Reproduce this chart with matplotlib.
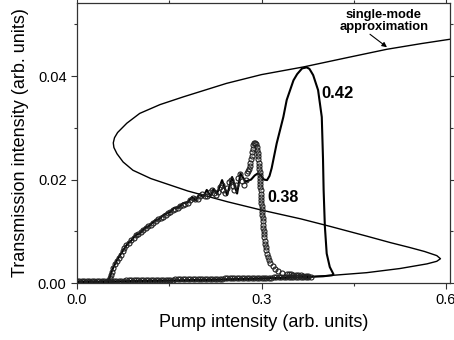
import matplotlib
matplotlib.use("Agg")
import matplotlib.pyplot as plt

plt.rcParams['font.family'] = ['Liberation Sans', 'DejaVu Sans']

# single-mode approximation (S-shaped bistability curve)
s_pump = [0.000, 0.100, 0.200, 0.300, 0.364, 0.417, 0.471, 0.525, 0.569, 0.585,
          0.591, 0.585, 0.565, 0.540, 0.510, 0.470, 0.410, 0.364, 0.300, 0.245,
          0.180, 0.120, 0.091, 0.075, 0.065, 0.060, 0.059, 0.061, 0.066, 0.081,
          0.102, 0.135, 0.173, 0.243, 0.300, 0.369, 0.440, 0.504, 0.560, 0.610]
s_trans = [0.0000, 0.0003, 0.0005, 0.0008, 0.0011, 0.0015, 0.0020, 0.0028, 0.0037, 0.0042,
           0.0047, 0.0053, 0.0061, 0.0069, 0.0078, 0.0091, 0.0110, 0.0124, 0.0141, 0.0157,
           0.0178, 0.0202, 0.0218, 0.0234, 0.0250, 0.0262, 0.0271, 0.0281, 0.0291, 0.0309,
           0.0328, 0.0345, 0.0360, 0.0386, 0.0403, 0.0418, 0.0436, 0.0452, 0.0463, 0.0472]

# trace with peak pump 0.42 (solid line)
p42 = [0.000, 0.050, 0.100, 0.200, 0.300, 0.360, 0.400, 0.415, 0.417, 0.411,
       0.406, 0.403, 0.401, 0.400, 0.398, 0.392, 0.384, 0.378, 0.3735, 0.366,
       0.358, 0.352, 0.341, 0.3355, 0.330, 0.3247, 0.3165, 0.313, 0.309, 0.304,
       0.299, 0.294, 0.289, 0.283, 0.278, 0.274, 0.2658, 0.2603, 0.2522, 0.244,
       0.2359, 0.2277, 0.222, 0.217, 0.211, 0.205, 0.199, 0.193, 0.187, 0.180,
       0.172, 0.165, 0.158, 0.150, 0.142, 0.134, 0.126, 0.118, 0.110, 0.102,
       0.095, 0.088, 0.081, 0.075, 0.069, 0.064, 0.059, 0.055, 0.052, 0.050,
       0.040, 0.020, 0.000]
t42 = [0.0002, 0.0003, 0.0004, 0.0006, 0.0009, 0.0011, 0.0013, 0.0015, 0.0017, 0.0031,
       0.0057, 0.0110, 0.0180, 0.0240, 0.0321, 0.0373, 0.0402, 0.0414, 0.0417, 0.0415,
       0.0404, 0.0392, 0.0354, 0.0321, 0.0295, 0.0270, 0.0222, 0.0207, 0.0199, 0.0200,
       0.0208, 0.0212, 0.0208, 0.0200, 0.0198, 0.0196, 0.0212, 0.0173, 0.0205, 0.0170,
       0.0199, 0.0173, 0.0182, 0.0168, 0.0180, 0.0166, 0.0172, 0.0160, 0.0166, 0.0156,
       0.0154, 0.0146, 0.0145, 0.0136, 0.0133, 0.0124, 0.0120, 0.0111, 0.0106, 0.0096,
       0.0092, 0.0082, 0.0074, 0.0063, 0.0052, 0.0042, 0.0030, 0.0018, 0.0007, 0.0002,
       0.0001, 0.0001, 0.0001]

# trace with peak pump 0.38 (open circles)
p38 = [0.000, 0.004, 0.008, 0.012, 0.016, 0.020, 0.024, 0.028, 0.032, 0.036,
       0.040, 0.044, 0.048, 0.052, 0.056, 0.060, 0.064, 0.068, 0.072, 0.076,
       0.080, 0.084, 0.088, 0.092, 0.096, 0.100, 0.104, 0.108, 0.112, 0.116,
       0.120, 0.124, 0.128, 0.132, 0.136, 0.140, 0.144, 0.148, 0.152, 0.156,
       0.160, 0.164, 0.168, 0.172, 0.176, 0.180, 0.184, 0.188, 0.192, 0.196,
       0.200, 0.204, 0.208, 0.212, 0.216, 0.220, 0.224, 0.228, 0.232, 0.236,
       0.240, 0.244, 0.248, 0.252, 0.256, 0.260, 0.264, 0.268, 0.272, 0.276,
       0.280, 0.284, 0.288, 0.292, 0.296, 0.300, 0.304, 0.308, 0.312, 0.316,
       0.320, 0.324, 0.328, 0.332, 0.336, 0.340, 0.344, 0.348, 0.352, 0.356,
       0.360, 0.364, 0.368, 0.372, 0.376, 0.380,
       0.376, 0.372, 0.368, 0.364, 0.360, 0.356, 0.352, 0.348, 0.344, 0.341,
       0.334, 0.327, 0.322, 0.318, 0.3145, 0.312, 0.310, 0.3088, 0.3078, 0.307,
       0.3062, 0.3055, 0.3048, 0.3042, 0.3037, 0.3032, 0.3027, 0.3022, 0.3018, 0.3014,
       0.3010, 0.3006, 0.3002, 0.2998, 0.2995, 0.2992, 0.2989, 0.2986, 0.2983, 0.2980,
       0.2977, 0.2974, 0.2971, 0.2968, 0.2964, 0.2960, 0.2956, 0.2951, 0.2946, 0.2940,
       0.2933, 0.2923, 0.2910, 0.2894, 0.2878, 0.2865, 0.2855, 0.2846, 0.2838, 0.2830,
       0.2820, 0.2808, 0.2795, 0.2780, 0.2765, 0.274, 0.271, 0.268, 0.265, 0.262,
       0.259, 0.256, 0.253, 0.250, 0.247, 0.244, 0.241, 0.238, 0.235, 0.232,
       0.229, 0.226, 0.223, 0.220, 0.216, 0.212, 0.208, 0.204, 0.200, 0.196,
       0.192, 0.188, 0.184, 0.180, 0.176, 0.172, 0.168, 0.164, 0.160, 0.156,
       0.152, 0.148, 0.144, 0.140, 0.136, 0.132, 0.128, 0.124, 0.120, 0.116,
       0.112, 0.108, 0.104, 0.100, 0.096, 0.092, 0.088, 0.084, 0.080, 0.077,
       0.074, 0.071, 0.068, 0.065, 0.062, 0.059, 0.057, 0.055, 0.053, 0.051,
       0.048, 0.040, 0.030, 0.020, 0.010, 0.000]
t38 = [0.0003, 0.0003, 0.0003, 0.0003, 0.0003, 0.0003, 0.0003, 0.0003, 0.0003, 0.0003,
       0.0004, 0.0004, 0.0004, 0.0004, 0.0004, 0.0004, 0.0004, 0.0004, 0.0004, 0.0004,
       0.0005, 0.0005, 0.0005, 0.0005, 0.0005, 0.0005, 0.0005, 0.0005, 0.0005, 0.0005,
       0.0006, 0.0006, 0.0006, 0.0006, 0.0006, 0.0006, 0.0006, 0.0006, 0.0006, 0.0006,
       0.0007, 0.0007, 0.0007, 0.0007, 0.0007, 0.0007, 0.0007, 0.0007, 0.0007, 0.0007,
       0.0008, 0.0008, 0.0008, 0.0008, 0.0008, 0.0008, 0.0008, 0.0008, 0.0008, 0.0008,
       0.0009, 0.0009, 0.0009, 0.0009, 0.0009, 0.0009, 0.0009, 0.0009, 0.0009, 0.0009,
       0.0010, 0.0010, 0.0010, 0.0010, 0.0010, 0.0010, 0.0010, 0.0010, 0.0010, 0.0010,
       0.0011, 0.0011, 0.0011, 0.0011, 0.0011, 0.0011, 0.0011, 0.0011, 0.0011, 0.0011,
       0.0012, 0.0012, 0.0012, 0.0012, 0.0012, 0.0012,
       0.0013, 0.0014, 0.0014, 0.0015, 0.0015, 0.0016, 0.0016, 0.0017, 0.0017, 0.0018,
       0.0020, 0.0023, 0.0027, 0.0033, 0.0039, 0.0045, 0.0051, 0.0057, 0.0063, 0.0069,
       0.0075, 0.0082, 0.0089, 0.0095, 0.0101, 0.0107, 0.0113, 0.0119, 0.0125, 0.0131,
       0.0137, 0.0143, 0.0149, 0.0155, 0.0161, 0.0167, 0.0173, 0.0179, 0.0185, 0.0191,
       0.0197, 0.0203, 0.0209, 0.0215, 0.0221, 0.0227, 0.0233, 0.0239, 0.0245, 0.0251,
       0.0257, 0.0263, 0.0268, 0.0271, 0.0270, 0.0266, 0.0260, 0.0253, 0.0246, 0.0239,
       0.0232, 0.0226, 0.0221, 0.0217, 0.0212, 0.0200, 0.0190, 0.0198, 0.0210, 0.0204,
       0.0190, 0.0180, 0.0188, 0.0200, 0.0196, 0.0184, 0.0174, 0.0180, 0.0190, 0.0186,
       0.0176, 0.0170, 0.0174, 0.0180, 0.0176, 0.0168, 0.0168, 0.0172, 0.0168, 0.0162,
       0.0162, 0.0164, 0.0160, 0.0155, 0.0153, 0.0151, 0.0148, 0.0146, 0.0143, 0.0141,
       0.0138, 0.0135, 0.0131, 0.0128, 0.0126, 0.0123, 0.0120, 0.0117, 0.0113, 0.0110,
       0.0106, 0.0102, 0.0099, 0.0095, 0.0092, 0.0088, 0.0083, 0.0078, 0.0073, 0.0067,
       0.0061, 0.0055, 0.0049, 0.0043, 0.0036, 0.0029, 0.0022, 0.0015, 0.0009, 0.0004,
       0.0002, 0.0002, 0.0002, 0.0002, 0.0002, 0.0002]

fig = plt.figure(figsize=(4.54, 3.40), dpi=100)
ax = fig.add_axes([0.1696, 0.1676, 0.9912 - 0.1696, 0.992 - 0.1676])

ax.plot(s_pump, s_trans, color='black', lw=1.0)
ax.plot(p42, t42, color='black', lw=1.5, solid_joinstyle='round')
ax.plot(p38, t38, ls='none', marker='o', ms=3.6, mfc='none', mec='#202020', mew=0.8)

ax.text(0.398, 0.0366, '0.42', fontsize=12, fontweight='bold', va='center')
ax.text(0.309, 0.0166, '0.38', fontsize=11.5, fontweight='bold', va='center')
ax.text(0.499, 0.0507, 'single-mode\napproximation', fontsize=9.4, fontweight='bold',
        ha='center', va='center', linespacing=1.0)
ax.annotate('', xy=(0.504, 0.0456), xytext=(0.4764, 0.0481),
            arrowprops=dict(arrowstyle='-|>', color='black', lw=0.8, mutation_scale=7,
                            shrinkA=0, shrinkB=0))

ax.set_xlim(0, 0.6065)
ax.set_ylim(0, 0.0542)
ax.set_xticks([0.0, 0.3, 0.6])
ax.set_xticklabels(['0.0', '0.3', '0.6'])
ax.set_xticks([0.15, 0.45], minor=True)
ax.set_yticks([0.0, 0.02, 0.04])
ax.set_yticklabels(['0.00', '0.02', '0.04'])
ax.set_yticks([0.01, 0.03, 0.05], minor=True)
ax.tick_params(which='both', direction='out', top=True, right=True, labelsize=10.5, color='#333333')
ax.tick_params(which='major', length=4.5, width=0.8, pad=3)
ax.tick_params(which='minor', length=2.5, width=0.8)
for sp in ax.spines.values():
    sp.set_linewidth(0.9)
    sp.set_color('#333333')

ax.set_xlabel('Pump intensity (arb. units)', fontsize=13, labelpad=5)
ax.set_ylabel('Transmission intensity (arb. units)', fontsize=13, labelpad=6)

fig.savefig('out.png', dpi=100)
